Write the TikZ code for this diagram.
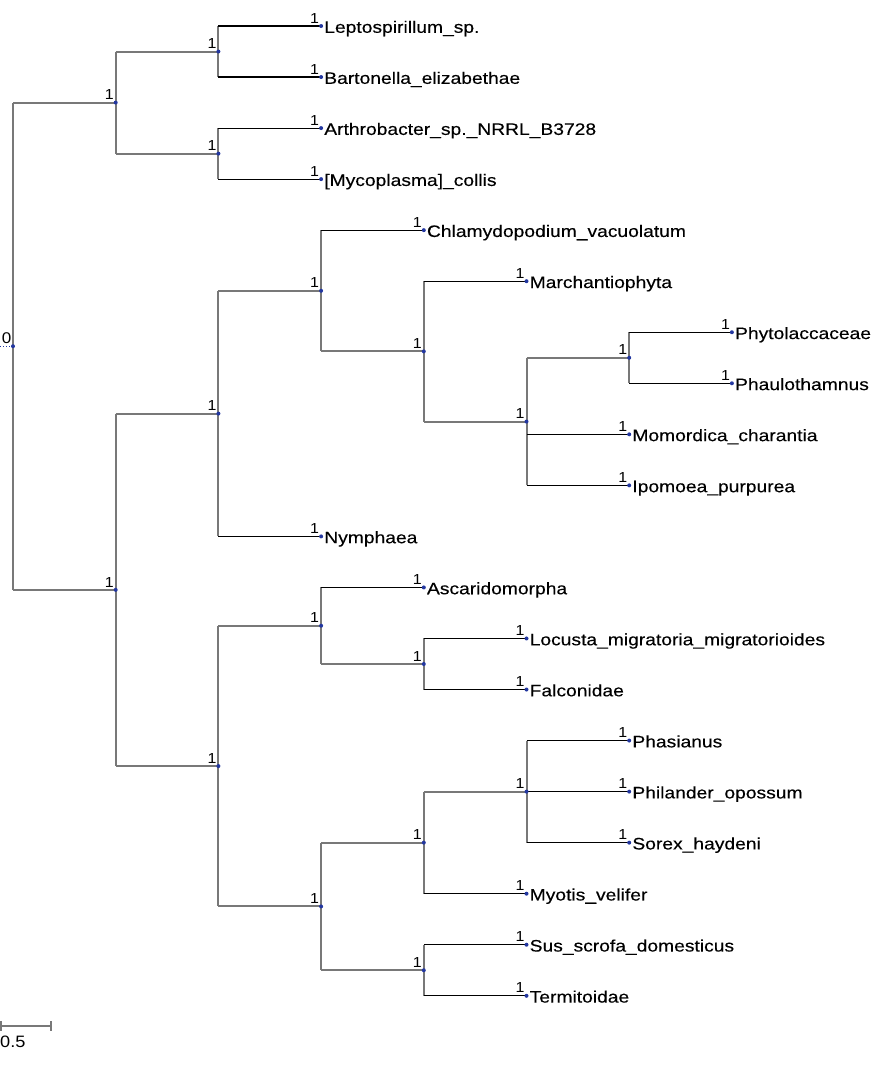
\documentclass[tikz,border=0pt]{standalone}
\usepackage{fontspec}
\setmainfont{Liberation Sans}
\newfontfamily\labfont[FakeStretch=1.16,FakeBold=0.25]{Liberation Sans}
\newfontfamily\supfont[FakeStretch=1.1]{Liberation Sans}
\usetikzlibrary{calc}
\definecolor{branchgray}{RGB}{120,120,120}
\definecolor{dotblue}{RGB}{35,55,160}
\begin{document}
\begin{tikzpicture}[x=1pt,y=-1pt,
  vline/.style={draw=branchgray,line width=2pt},
  iedge/.style={draw=branchgray,line width=2pt},
  ledge/.style={draw=black,line width=1.1pt},
  dot/.style={circle,fill=dotblue,inner sep=0pt,minimum size=4pt},
  leaftext/.style={anchor=base west,inner sep=0pt,font=\labfont\fontsize{16.6}{18}\selectfont},
  sup/.style={anchor=base east,inner sep=0pt,font=\supfont\fontsize{14.5}{16}\selectfont},
]
\useasboundingbox (0,0) rectangle (874,1072);
% ---- coordinates: internal nodes
\coordinate (root) at (13,346.2);
\coordinate (A)  at (115.7,102.56);
\coordinate (A1) at (218.4,51.52);
\coordinate (A2) at (218.4,153.6);
\coordinate (B)  at (115.7,589.83);
\coordinate (C)  at (218.4,413.585);
\coordinate (D)  at (321.1,290.77);
\coordinate (E)  at (423.8,351.38);
\coordinate (F)  at (526.5,421.56);
\coordinate (G)  at (629.2,357.76);
\coordinate (H)  at (218.4,766.08);
\coordinate (I)  at (321.1,625.72);
\coordinate (J)  at (423.8,664.0);
\coordinate (K)  at (321.1,906.44);
\coordinate (L)  at (423.8,842.64);
\coordinate (M)  at (526.5,791.6);
\coordinate (N)  at (423.8,970.24);
% ---- coordinates: leaves
\coordinate (lep) at (321.1,26.0);
\coordinate (bar) at (321.1,77.04);
\coordinate (art) at (321.1,128.08);
\coordinate (myc) at (321.1,179.12);
\coordinate (chl) at (423.8,230.16);
\coordinate (mar) at (526.5,281.2);
\coordinate (phy) at (731.9,332.24);
\coordinate (pha) at (731.9,383.28);
\coordinate (mom) at (629.2,434.32);
\coordinate (ipo) at (629.2,485.36);
\coordinate (nym) at (321.1,536.4);
\coordinate (asc) at (423.8,587.44);
\coordinate (loc) at (526.5,638.48);
\coordinate (fal) at (526.5,689.52);
\coordinate (phs) at (629.2,740.56);
\coordinate (phi) at (629.2,791.6);
\coordinate (sor) at (629.2,842.64);
\coordinate (myo) at (526.5,893.68);
\coordinate (sus) at (526.5,944.72);
\coordinate (ter) at (526.5,995.76);
% ---- vertical lines
\draw[vline] (root |- A) -- (root |- B);
\draw[vline] (A |- A1) -- (A |- A2);
\draw[vline] (A1 |- lep) -- (A1 |- bar);
\draw[vline] (A2 |- art) -- (A2 |- myc);
\draw[vline] (B |- C) -- (B |- H);
\draw[vline] (C |- D) -- (C |- nym);
\draw[vline] (D |- chl) -- (D |- E);
\draw[vline] (E |- mar) -- (E |- F);
\draw[vline] (F |- G) -- (F |- ipo);
\draw[vline] (G |- phy) -- (G |- pha);
\draw[vline] (H |- I) -- (H |- K);
\draw[vline] (I |- asc) -- (I |- J);
\draw[vline] (J |- loc) -- (J |- fal);
\draw[vline] (K |- L) -- (K |- N);
\draw[vline] (L |- M) -- (L |- myo);
\draw[vline] (M |- phs) -- (M |- sor);
\draw[vline] (N |- sus) -- (N |- ter);
% ---- internal horizontal edges
\foreach \p/\c in {root/A,root/B,A/A1,A/A2,B/C,B/H,C/D,D/E,E/F,F/G,H/I,H/K,I/J,K/L,K/N,L/M}
  \draw[iedge] (\p |- \c) -- (\c);
% ---- leaf horizontal edges
\foreach \p/\c in {A1/lep,A1/bar,A2/art,A2/myc,D/chl,E/mar,G/phy,G/pha,F/mom,F/ipo,C/nym,I/asc,J/loc,J/fal,M/phs,M/phi,M/sor,L/myo,N/sus,N/ter}
  \draw[ledge] (\p |- \c) -- (\c);
% ---- root stub
\coordinate (stub) at (0,346.2);
\draw[dotblue,line width=1pt,dotted] (stub) -- (root);
\node[anchor=base east,inner sep=0pt,font=\supfont\fontsize{15.5}{17}\selectfont] (root-s) at ($(root)+(-1.5,-3)$) {0};
% ---- dots and support values
\node[dot] (root-d) at (root) {};
\foreach \n in {A,A1,A2,B,C,D,E,F,G,H,I,J,K,L,M,N,lep,bar,art,myc,chl,mar,phy,pha,mom,ipo,nym,asc,loc,fal,phs,phi,sor,myo,sus,ter}{
  \node[dot] (\n-d) at (\n) {};
  \node[sup] (\n-s) at ($(\n)+(-1.8,-2.8)$) {1};
}
% ---- leaf names
\tikzset{lt/.style={leaftext}}
\node[leaftext] (lep-t) at ($(lep)+(3,6.8)$) {Leptospirillum\_sp.};
\node[leaftext] (bar-t) at ($(bar)+(3,6.8)$) {Bartonella\_elizabethae};
\node[leaftext] (art-t) at ($(art)+(3,6.8)$) {Arthrobacter\_sp.\_NRRL\_B3728};
\node[leaftext] (myc-t) at ($(myc)+(3,6.8)$) {[Mycoplasma]\_collis};
\node[leaftext] (chl-t) at ($(chl)+(3,6.8)$) {Chlamydopodium\_vacuolatum};
\node[leaftext] (mar-t) at ($(mar)+(3,6.8)$) {Marchantiophyta};
\node[leaftext] (phy-t) at ($(phy)+(3,6.8)$) {Phytolaccaceae};
\node[leaftext] (pha-t) at ($(pha)+(3,6.8)$) {Phaulothamnus};
\node[leaftext] (mom-t) at ($(mom)+(3,6.8)$) {Momordica\_charantia};
\node[leaftext] (ipo-t) at ($(ipo)+(3,6.8)$) {Ipomoea\_purpurea};
\node[leaftext] (nym-t) at ($(nym)+(3,6.8)$) {Nymphaea};
\node[leaftext] (asc-t) at ($(asc)+(3,6.8)$) {Ascaridomorpha};
\node[leaftext] (loc-t) at ($(loc)+(3,6.8)$) {Locusta\_migratoria\_migratorioides};
\node[leaftext] (fal-t) at ($(fal)+(3,6.8)$) {Falconidae};
\node[leaftext] (phs-t) at ($(phs)+(3,6.8)$) {Phasianus};
\node[leaftext] (phi-t) at ($(phi)+(3,6.8)$) {Philander\_opossum};
\node[leaftext] (sor-t) at ($(sor)+(3,6.8)$) {Sorex\_haydeni};
\node[leaftext] (myo-t) at ($(myo)+(3,6.8)$) {Myotis\_velifer};
\node[leaftext] (sus-t) at ($(sus)+(3,6.8)$) {Sus\_scrofa\_domesticus};
\node[leaftext] (ter-t) at ($(ter)+(3,6.8)$) {Termitoidae};
% ---- scale bar
\coordinate (sb1) at (1,1026);
\coordinate (sb2) at (51,1026);
\draw[branchgray,line width=1.8pt] (sb1) -- (sb2);
\draw[branchgray,line width=1.8pt] ($(sb1)+(0,-5)$) -- ($(sb1)+(0,5)$);
\draw[branchgray,line width=1.8pt] ($(sb2)+(0,-5)$) -- ($(sb2)+(0,5)$);
\node[anchor=base west,inner sep=0pt,font=\supfont\fontsize{16.5}{18}\selectfont] (sb-t) at (0,1047) {0.5};
\end{tikzpicture}
\end{document}
